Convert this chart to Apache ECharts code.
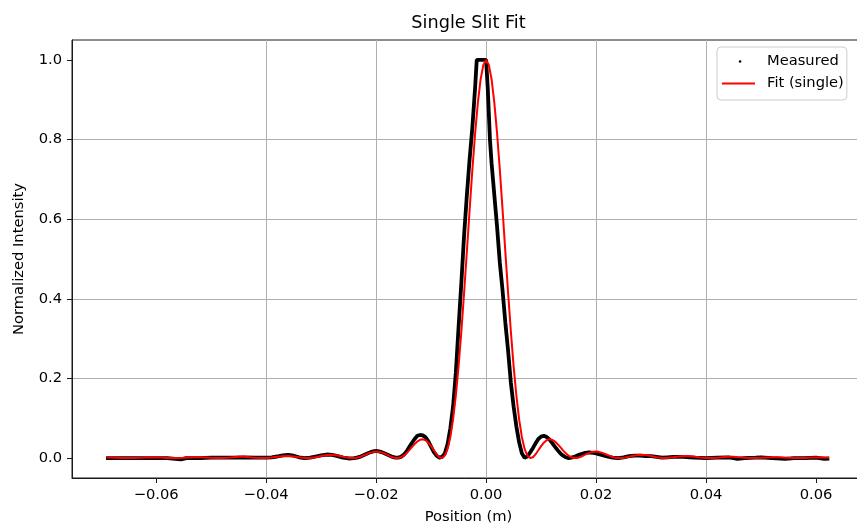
<!DOCTYPE html>
<html><head><meta charset="utf-8">
<script src="https://cdn.jsdelivr.net/npm/echarts@6/dist/echarts.min.js"></script>
<style>html,body{margin:0;padding:0;background:#fff}#c{width:857px;height:524px}</style>
</head><body><div id="c"></div>
<script>
// ---- data ----
const chartTitle = 'Single Slit Fit';
const xAxisName = 'Position (m)';
const yAxisName = 'Normalized Intensity';
const seriesNames = ['Measured', 'Fit (single)'];
const xTicks = [-0.06, -0.04, -0.02, 0, 0.02, 0.04, 0.06];
const yTicks = [0, 0.2, 0.4, 0.6, 0.8, 1.0];

const measuredX = [
-0.0691,-0.068,-0.066,-0.064,-0.062,-0.060,-0.058,-0.0565,-0.0555,-0.0545,
-0.052,-0.050,-0.048,-0.046,-0.044,-0.042,-0.040,-0.039,-0.038,-0.037,
-0.036,-0.035,-0.034,-0.033,-0.032,-0.031,-0.030,-0.029,-0.028,-0.027,
-0.026,-0.025,-0.024,-0.0235,-0.023,-0.0225,-0.022,-0.0215,-0.021,-0.0205,
-0.020,-0.0195,-0.019,-0.0185,-0.018,-0.0175,-0.017,-0.0165,-0.016,-0.0155,
-0.015,-0.0145,-0.014,-0.0135,-0.013,-0.0125,-0.012,-0.0115,-0.011,-0.0105,
-0.010,-0.0095,-0.009,-0.0085,-0.008,-0.0075,-0.007,-0.0065,-0.006,-0.0055,
-0.005,-0.0045,-0.004,-0.0035,-0.003,-0.0025,-0.002,-0.0017,-0.001,-0.0005,
0.000,0.0003,0.0007,0.001,0.0015,0.002,0.0025,0.003,0.0035,0.004,
0.0045,0.005,0.0055,0.006,0.0065,0.007,0.0075,0.008,0.0085,0.009,
0.0095,0.010,0.0105,0.011,0.0115,0.012,0.0125,0.013,0.0135,0.014,
0.0145,0.015,0.0155,0.016,0.0165,0.017,0.0175,0.018,0.0185,0.019,
0.0195,0.020,0.021,0.022,0.023,0.024,0.025,0.026,0.027,0.028,
0.029,0.030,0.031,0.032,0.033,0.034,0.035,0.036,0.037,0.038,
0.040,0.042,0.044,0.045,0.0457,0.047,0.049,0.050,0.052,0.0544,
0.056,0.058,0.060,0.0615,0.0624
];
const measuredY = [
0.000,0.000,0.000,0.000,0.000,0.000,0.000,-0.002,-0.003,0.000,
0.000,0.001,0.001,0.001,0.002,0.001,0.001,0.002,0.004,0.007,
0.008,0.006,0.002,0.000,0.001,0.004,0.007,0.009,0.008,0.005,
0.001,-0.001,0.000,0.001,0.003,0.006,0.009,0.012,0.015,0.017,
0.018,0.017,0.015,0.012,0.009,0.006,0.003,0.001,0.001,0.003,
0.008,0.016,0.027,0.038,0.048,0.056,0.058,0.057,0.052,0.042,
0.028,0.015,0.006,0.001,0.003,0.012,0.035,0.075,0.130,0.215,
0.330,0.440,0.560,0.660,0.750,0.830,0.930,1.000,1.000,1.000,
1.000,0.930,0.800,0.740,0.660,0.580,0.490,0.420,0.340,0.270,
0.190,0.130,0.080,0.040,0.012,0.001,0.004,0.014,0.025,0.037,
0.048,0.054,0.056,0.053,0.047,0.038,0.029,0.020,0.012,0.006,
0.002,0.000,0.001,0.003,0.006,0.009,0.011,0.013,0.014,0.014,
0.013,0.012,0.008,0.004,0.001,0.000,0.002,0.005,0.006,0.006,
0.005,0.005,0.003,0.001,0.002,0.003,0.003,0.003,0.002,0.001,
0.000,0.001,0.002,0.000,-0.002,0.000,0.001,0.002,0.000,-0.002,
0.000,0.000,0.001,-0.002,-0.001
];

const fitX = [
-0.069,-0.068,-0.067,-0.066,-0.065,-0.064,-0.063,-0.062,-0.061,-0.060,
-0.059,-0.058,-0.057,-0.056,-0.055,-0.054,-0.053,-0.052,-0.051,-0.050,
-0.049,-0.048,-0.047,-0.046,-0.045,-0.044,-0.043,-0.042,-0.041,-0.040,
-0.039,-0.038,-0.037,-0.036,-0.035,-0.034,-0.033,-0.032,-0.031,-0.030,
-0.029,-0.028,-0.027,-0.026,-0.025,
-0.0240,-0.0235,-0.0230,-0.0225,-0.0220,-0.0215,-0.0210,-0.0205,-0.0200,-0.0195,
-0.0190,-0.0185,-0.0180,-0.0175,-0.0170,-0.0165,-0.0160,-0.0155,-0.0150,-0.0145,
-0.0140,-0.0135,-0.0130,-0.0125,-0.0120,-0.0115,-0.0110,-0.0105,-0.0100,-0.0095,
-0.0090,-0.0085,-0.0080,-0.0075,-0.0070,-0.0065,-0.0060,-0.0055,-0.0050,-0.0045,
-0.0040,-0.0035,-0.0030,-0.0025,-0.0020,-0.0015,-0.0010,-0.0005,0,
0.0005,0.0010,0.0015,0.0020,0.0025,0.0030,0.0035,0.0040,0.0045,0.0050,
0.0055,0.0060,0.0065,0.0070,0.0075,0.0080,0.0085,0.0090,0.0095,0.0100,
0.0105,0.0110,0.0115,0.0120,0.0125,0.0130,0.0135,0.0140,0.0145,0.0150,
0.0155,0.0160,0.0165,0.0170,0.0175,0.0180,0.0185,0.0190,0.0195,0.0200,
0.0205,0.0210,0.0215,0.0220,0.0225,0.0230,0.0235,0.0240,
0.025,0.026,0.027,0.028,0.029,0.030,0.031,0.032,0.033,0.034,
0.035,0.036,0.037,0.038,0.039,0.040,0.041,0.042,0.043,0.044,
0.045,0.046,0.047,0.048,0.049,0.050,0.051,0.052,0.053,0.054,
0.055,0.056,0.057,0.058,0.059,0.060,0.061,0.062,0.0624
];
const fitY = [
.0014,.0013,.0008,.0003,.0000,.0002,.0007,.0014,.0018,.0017,
.0012,.0005,.0000,.0002,.0008,.0017,.0023,.0023,.0016,.0007,
.0001,.0002,.0010,.0023,.0032,.0033,.0024,.0011,.0002,.0002,
.0013,.0031,.0046,.0050,.0039,.0019,.0003,.0003,.0022,.0051,
.0076,.0082,.0064,.0032,.0005,
.0002,.0011,.0029,.0054,.0083,.0113,.0138,.0157,.0165,.0160,
.0144,.0118,.0085,.0051,.0021,.0003,.0002,.0020,.0060,.0119,
.0193,.0274,.0352,.0418,.0460,.0471,.0447,.0388,.0300,.0197,
.0096,.0022,.0002,.0063,.0232,.0532,.0977,.1573,.2314,.3184,
.4153,.5183,.6227,.7234,.8149,.8921,.9509,.9875,1.0,
.9875,.9509,.8921,.8149,.7234,.6227,.5183,.4153,.3184,.2314,
.1573,.0977,.0532,.0232,.0063,.0002,.0022,.0096,.0197,.0300,
.0388,.0447,.0471,.0460,.0418,.0352,.0274,.0193,.0119,.0060,
.0020,.0002,.0003,.0021,.0051,.0085,.0118,.0144,.0160,.0165,
.0157,.0138,.0113,.0083,.0054,.0029,.0011,.0002,
.0005,.0032,.0064,.0082,.0076,.0051,.0022,.0003,.0003,.0019,
.0039,.0050,.0046,.0031,.0013,.0002,.0002,.0011,.0024,.0033,
.0032,.0023,.0010,.0002,.0001,.0007,.0016,.0023,.0023,.0017,
.0008,.0002,.0000,.0005,.0012,.0017,.0018,.0014,.0011
];

// ---- chart ----
const FONT = 'DejaVu Sans';
const near = (v, arr) => arr.some(t => Math.abs(t - v) < 1e-9);
const fmtX = v => near(v, xTicks) ? v.toFixed(2).replace('-', '\u2212') : '';
const fmtY = v => near(v, yTicks) ? v.toFixed(1).replace('-', '\u2212') : '';

const chart = echarts.init(document.getElementById('c'), null, {renderer: 'canvas'});
chart.setOption({
  animation: false,
  backgroundColor: '#fff',
  title: {
    text: chartTitle, left: 468.5, textAlign: 'center', top: 14, padding: 0,
    textStyle: {fontFamily: FONT, fontSize: 17.7, fontWeight: 'normal', color: '#000'}
  },
  grid: {left: 72, top: 40, right: -8, bottom: 46, containLabel: false, outerBoundsMode: 'none',
    show: true, borderColor: '#1a1a1a', borderWidth: 1, backgroundColor: 'transparent'},
  legend: {
    orient: 'vertical', left: 717, top: 47, padding: [7, 3, 9, 5],
    itemWidth: 40, itemHeight: 15, itemGap: 7, symbolKeepAspect: false,
    backgroundColor: 'rgba(255,255,255,0.8)', borderColor: '#cccccc', borderWidth: 1, borderRadius: 4,
    itemStyle: {borderWidth: 0},
    textStyle: {fontFamily: FONT, fontSize: 14.7, color: '#000', lineHeight: 15},
    data: [
      {name: seriesNames[0], icon: 'path://M0,0 M40,15 M16.8,7.5 A1.3,1.3 0 1 1 19.4,7.5 A1.3,1.3 0 1 1 16.8,7.5 Z'},
      {name: seriesNames[1], icon: 'path://M0,0 M40,15 M0,6.5 L33,6.5 L33,8.5 L0,8.5 Z'}
    ]
  },
  xAxis: {
    type: 'value', min: -0.0753, max: 0.0689, minInterval: 0.02, maxInterval: 0.02,
    name: xAxisName, nameLocation: 'middle', nameGap: 32,
    nameTextStyle: {fontFamily: FONT, fontSize: 14.7, color: '#000'},
    axisLine: {show: true, onZero: false, lineStyle: {color: '#1a1a1a', width: 1}},
    axisTick: {show: true, customValues: xTicks, length: 5, lineStyle: {color: '#1a1a1a', width: 1}},
    axisLabel: {customValues: xTicks, formatter: fmtX, fontFamily: FONT, fontSize: 14.7, color: '#000', margin: 10},
    splitLine: {show: true, showMinLine: false, showMaxLine: false, lineStyle: {color: '#b0b0b0', width: 1}}
  },
  yAxis: {
    type: 'value', min: -0.05, max: 1.05, minInterval: 0.2, maxInterval: 0.2,
    name: yAxisName, nameLocation: 'middle', nameGap: 45,
    nameTextStyle: {fontFamily: FONT, fontSize: 14.7, color: '#000'},
    axisLine: {show: true, onZero: false, lineStyle: {color: '#1a1a1a', width: 1}},
    axisTick: {show: true, customValues: yTicks, length: 5, lineStyle: {color: '#1a1a1a', width: 1}},
    axisLabel: {customValues: yTicks, formatter: fmtY, fontFamily: FONT, fontSize: 14.7, color: '#000', margin: 10},
    splitLine: {show: true, showMinLine: false, showMaxLine: false, lineStyle: {color: '#b0b0b0', width: 1}}
  },
  series: [
    {
      name: seriesNames[0], type: 'line', silent: true, showSymbol: false, symbol: 'none',
      data: measuredX.map((x, i) => [x, measuredY[i]]),
      lineStyle: {color: '#000', width: 3.8}, itemStyle: {color: '#000'}, z: 2
    },
    {
      name: seriesNames[1], type: 'line', silent: true, showSymbol: false, symbol: 'none',
      data: fitX.map((x, i) => [x, fitY[i]]),
      lineStyle: {color: '#ff0000', width: 2}, itemStyle: {color: '#ff0000'}, z: 3
    }
  ]
});
</script>
</body></html>
